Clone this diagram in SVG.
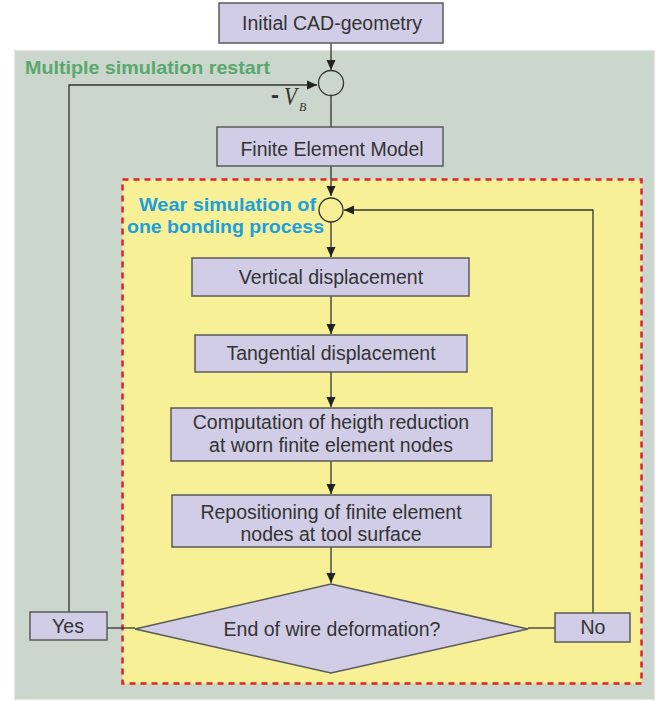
<svg xmlns="http://www.w3.org/2000/svg" width="665" height="702" viewBox="0 0 665 702">
<defs>
<style>
.box{fill:#d1cde6;stroke:#5a5a5a;stroke-width:1.5}
.t{font-family:"Liberation Sans",Arial,sans-serif;font-size:19.5px;fill:#333;text-anchor:middle}
.ln{fill:none;stroke:#333;stroke-width:1.3}
.sum{fill:none;stroke:#333;stroke-width:1.3}
</style>
<marker id="ah" viewBox="0 0 10 10" refX="10" refY="5" markerWidth="10" markerHeight="10" markerUnits="userSpaceOnUse" orient="auto">
<path d="M0,0.5 L10,5 L0,9.5 z" fill="#222"/>
</marker>
</defs>
<rect x="0" y="0" width="665" height="702" fill="#fff"/>
<rect x="14.5" y="50.5" width="640" height="649" fill="#cbd6cc" stroke="#e4e4e4" stroke-width="1.5" stroke-dasharray="2,2"/>
<rect x="122.5" y="179.5" width="519" height="504" fill="#f8f096" stroke="#e0202a" stroke-width="2.5" stroke-dasharray="6,5"/>
<text x="25" y="74" font-family="Liberation Sans,Arial,sans-serif" font-size="19" font-weight="bold" fill="#5aa86e" textLength="245" lengthAdjust="spacingAndGlyphs">Multiple simulation restart</text>
<g font-family="Liberation Sans,Arial,sans-serif" font-size="19" font-weight="bold" fill="#1aa0df">
<text x="139" y="211" textLength="177" lengthAdjust="spacingAndGlyphs">Wear simulation of</text>
<text x="127" y="233" textLength="197" lengthAdjust="spacingAndGlyphs">one bonding process</text>
</g>
<g id="connectors">
<path class="ln" d="M331,43 V70" marker-end="url(#ah)"/>
<path class="ln" d="M69,612 V85 H317" marker-end="url(#ah)"/>
<path class="ln" d="M331,96 V127"/>
<path class="ln" d="M331,166 V196" marker-end="url(#ah)"/>
<path class="ln" d="M593,613 V210 H344" marker-end="url(#ah)"/>
<path class="ln" d="M331,222 V257" marker-end="url(#ah)"/>
<path class="ln" d="M331,296 V334" marker-end="url(#ah)"/>
<path class="ln" d="M331,372 V407" marker-end="url(#ah)"/>
<path class="ln" d="M331,461 V494" marker-end="url(#ah)"/>
<path class="ln" d="M331,547 V583" marker-end="url(#ah)"/>
<path class="ln" d="M107,628 H135"/>
<path class="ln" d="M528,628 H555"/>
</g>
<g id="vb">
<text x="271" y="103" font-family="Liberation Sans,Arial,sans-serif" font-size="24" font-weight="bold" fill="#333">-</text>
<text x="284" y="105" font-family="Liberation Serif,Times New Roman,serif" font-size="25" font-style="italic" fill="#333" textLength="13" lengthAdjust="spacingAndGlyphs">V</text>
<text x="299" y="111" font-family="Liberation Serif,Times New Roman,serif" font-size="12" font-style="italic" fill="#333">B</text>
</g>
<g id="sum1"><circle class="sum" cx="331" cy="83" r="12.5"/></g>
<g id="sum2"><circle class="sum" cx="331" cy="210" r="12"/></g>
<g id="initial"><rect class="box" x="219" y="3" width="224" height="40"/><text class="t" x="332" y="30">Initial CAD-geometry</text></g>
<g id="fem"><rect class="box" x="217" y="127" width="226" height="39"/><text class="t" x="332" y="156">Finite Element Model</text></g>
<g id="vertical"><rect class="box" x="192" y="258" width="277" height="38"/><text class="t" x="331" y="284">Vertical displacement</text></g>
<g id="tangential"><rect class="box" x="195" y="335" width="272" height="37"/><text class="t" x="331" y="360">Tangential displacement</text></g>
<g id="computation"><rect class="box" x="171" y="408" width="321" height="53"/><text class="t" x="331" y="429">Computation of heigth reduction</text><text class="t" x="331" y="452">at worn finite element nodes</text></g>
<g id="repositioning"><rect class="box" x="172" y="495" width="319" height="52"/><text class="t" x="331" y="519">Repositioning of finite element</text><text class="t" x="331" y="541">nodes at tool surface</text></g>
<g id="decision"><polygon class="box" points="331,584 528,629 331,673 135,629"/><text class="t" x="332" y="636">End of wire deformation?</text></g>
<g id="yes"><rect class="box" x="30" y="612" width="77" height="28"/><text class="t" x="68" y="633">Yes</text></g>
<g id="no"><rect class="box" x="555" y="613" width="75" height="29"/><text class="t" x="593" y="634">No</text></g>
</svg>
